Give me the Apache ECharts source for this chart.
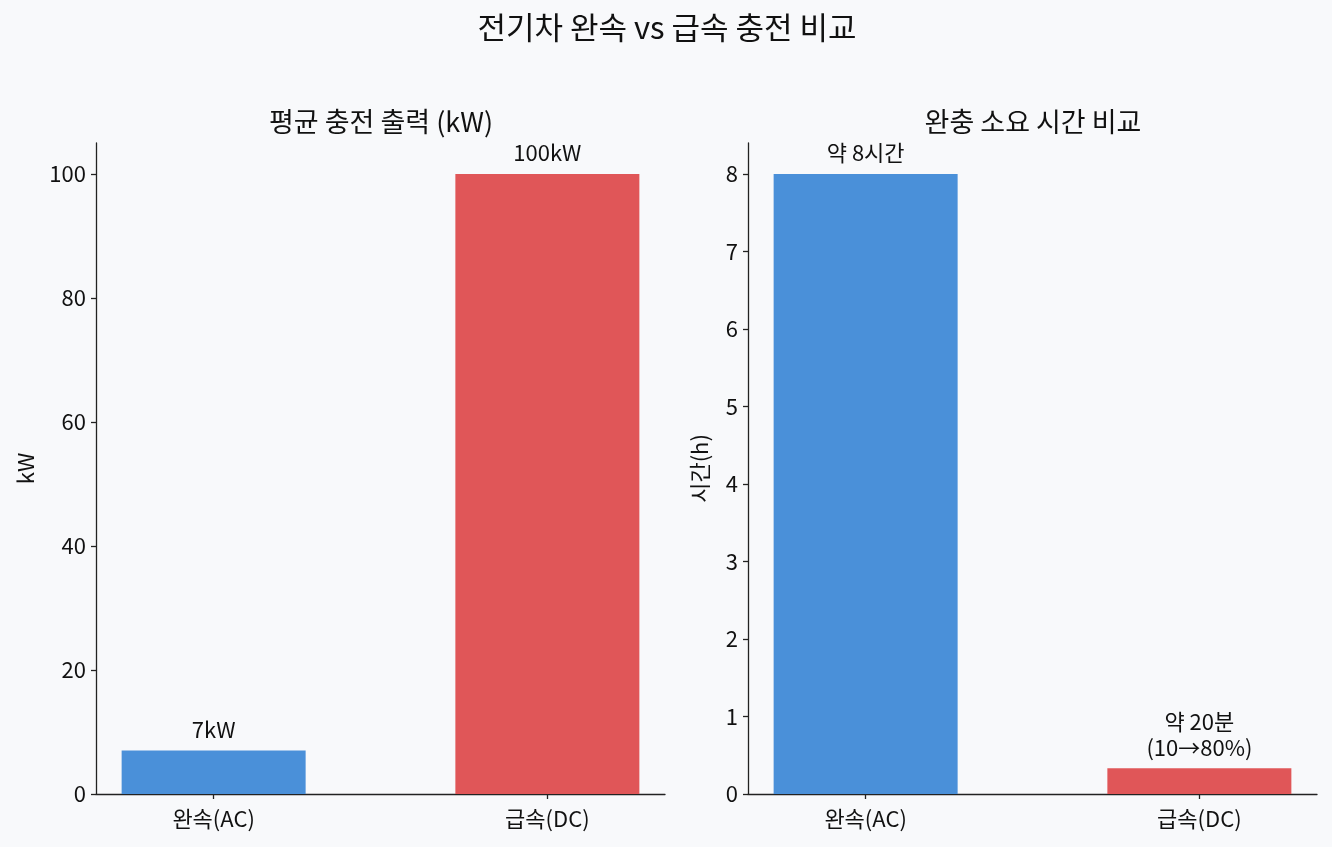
<!DOCTYPE html>
<html><head><meta charset="utf-8">
<script src="https://cdn.jsdelivr.net/npm/echarts@6/dist/echarts.min.js"></script>
<style>html,body{margin:0;padding:0;background:#f8f9fb;}#c{width:1332px;height:847px;}</style>
</head><body><div id="c"></div>
<script>
const categories = ['완속(AC)', '급속(DC)'];
const powerKW = [7, 100];
const powerLabels = ['7kW', '100kW'];
const hours = [8, 0.333];
const hourLabels = ['약 8시간', '약 20분\n(10→80%)'];
const powerTicks = [0, 20, 40, 60, 80, 100];
const hourTicks = [0, 1, 2, 3, 4, 5, 6, 7, 8];

const colors = ['#4a90d9', '#e05658'];
const FONT = '"Noto Sans CJK KR", "Noto Sans", sans-serif';
const txt = '#111111';
const FS = 22;

function mkX(idx) {
  return {
    type: 'value', gridIndex: idx, min: -0.3525, max: 1.3525,
    splitLine: {show: false},
    axisLine: {show: true, onZero: false, lineStyle: {color: '#222', width: 1.3}},
    axisTick: {show: true, customValues: [0, 1], length: 5, lineStyle: {color: '#222', width: 1.3}},
    axisLabel: {customValues: [0, 1], formatter: v => categories[Math.round(v)] || '', color: txt, fontSize: FS, fontFamily: FONT, margin: 14}
  };
}
function mkY(idx, max, ticks, name, gap) {
  return {
    type: 'value', gridIndex: idx, min: 0, max: max,
    name: name, nameLocation: 'middle', nameGap: gap, nameRotate: 90,
    nameTextStyle: {color: txt, fontSize: FS, fontFamily: FONT},
    splitLine: {show: false},
    axisLine: {show: true, onZero: false, lineStyle: {color: '#222', width: 1.3}},
    axisTick: {show: true, customValues: ticks, length: 5, lineStyle: {color: '#222', width: 1.3}},
    axisLabel: {customValues: ticks, color: txt, fontSize: FS, fontFamily: FONT, margin: 10}
  };
}
function mkData(vals, labels) {
  return vals.map((v, i) => ({
    value: [i, v],
    itemStyle: {color: colors[i]},
    label: {show: true, position: 'top', distance: 8, formatter: labels[i], color: txt, fontSize: FS, fontFamily: FONT, lineHeight: 26}
  }));
}

const chart = echarts.init(document.getElementById('c'));
chart.setOption({
  backgroundColor: '#f8f9fb',
  animation: false,
  title: [
    {text: '전기차 완속 vs 급속 충전 비교', left: 662, textAlign: 'center', top: 7, textStyle: {color: txt, fontSize: 31, fontWeight: 'normal', fontFamily: FONT}},
    {text: '평균 충전 출력 (kW)', left: 376, textAlign: 'center', top: 103, textStyle: {color: txt, fontSize: 27, fontWeight: 'normal', fontFamily: FONT}},
    {text: '완충 소요 시간 비교', left: 1028, textAlign: 'center', top: 103, textStyle: {color: txt, fontSize: 27, fontWeight: 'normal', fontFamily: FONT}}
  ],
  grid: [
    {left: 96, right: 667, top: 143, bottom: 53},
    {left: 748, right: 15, top: 143, bottom: 53}
  ],
  xAxis: [mkX(0), mkX(1)],
  yAxis: [mkY(0, 105, powerTicks, 'kW', 59), mkY(1, 8.4, hourTicks, '시간(h)', 37)],
  series: [
    {type: 'bar', xAxisIndex: 0, yAxisIndex: 0, barWidth: 184, data: mkData(powerKW, powerLabels)},
    {type: 'bar', xAxisIndex: 1, yAxisIndex: 1, barWidth: 184, data: mkData(hours, hourLabels)}
  ]
});
</script></body></html>
